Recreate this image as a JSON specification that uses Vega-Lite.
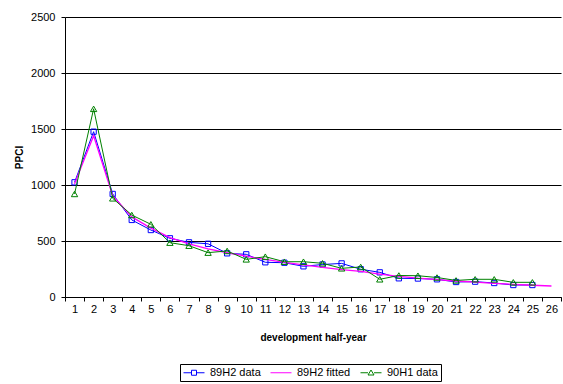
{
  "$schema": "https://vega.github.io/schema/vega-lite/v6.json",
  "width": 496,
  "height": 280,
  "autosize": {"type": "none"},
  "padding": {"left": 65, "top": 17, "right": 2, "bottom": 87},
  "background": "#ffffff",
  "config": {
    "font": "Liberation Sans",
    "view": {"stroke": null},
    "axis": {
      "domainColor": "#000000",
      "tickColor": "#000000",
      "gridColor": "#000000",
      "gridWidth": 1,
      "labelColor": "#000000",
      "titleColor": "#000000",
      "labelFont": "Liberation Sans",
      "titleFont": "Liberation Sans",
      "labelFontSize": 11,
      "titleFontSize": 10,
      "titleFontWeight": "bold",
      "tickSize": 4
    },
    "legend": {
      "orient": "none",
      "legendX": 115,
      "legendY": 347,
      "direction": "horizontal",
      "strokeColor": "#000000",
      "padding": 3,
      "symbolSize": 100,
      "symbolStrokeWidth": 1,
      "symbolOpacity": 1,
      "labelFontSize": 11,
      "labelFont": "Liberation Sans",
      "labelColor": "#000000",
      "labelOffset": 16,
      "columnPadding": 7
    }
  },
  "datasets": {
    "pts": [
      {"x": 1, "series": "89H2 data", "v": 1024},
      {"x": 2, "series": "89H2 data", "v": 1476},
      {"x": 3, "series": "89H2 data", "v": 920},
      {"x": 4, "series": "89H2 data", "v": 688},
      {"x": 5, "series": "89H2 data", "v": 598},
      {"x": 6, "series": "89H2 data", "v": 524},
      {"x": 7, "series": "89H2 data", "v": 488},
      {"x": 8, "series": "89H2 data", "v": 475},
      {"x": 9, "series": "89H2 data", "v": 390},
      {"x": 10, "series": "89H2 data", "v": 381},
      {"x": 11, "series": "89H2 data", "v": 310},
      {"x": 12, "series": "89H2 data", "v": 306},
      {"x": 13, "series": "89H2 data", "v": 274},
      {"x": 14, "series": "89H2 data", "v": 290},
      {"x": 15, "series": "89H2 data", "v": 300},
      {"x": 16, "series": "89H2 data", "v": 248},
      {"x": 17, "series": "89H2 data", "v": 220},
      {"x": 18, "series": "89H2 data", "v": 167},
      {"x": 19, "series": "89H2 data", "v": 165},
      {"x": 20, "series": "89H2 data", "v": 158},
      {"x": 21, "series": "89H2 data", "v": 134},
      {"x": 22, "series": "89H2 data", "v": 137},
      {"x": 23, "series": "89H2 data", "v": 125},
      {"x": 24, "series": "89H2 data", "v": 107},
      {"x": 25, "series": "89H2 data", "v": 107},
      {"x": 1, "series": "89H2 fitted", "v": 1010},
      {"x": 2, "series": "89H2 fitted", "v": 1440},
      {"x": 3, "series": "89H2 fitted", "v": 905},
      {"x": 4, "series": "89H2 fitted", "v": 715},
      {"x": 5, "series": "89H2 fitted", "v": 615},
      {"x": 6, "series": "89H2 fitted", "v": 530},
      {"x": 7, "series": "89H2 fitted", "v": 475},
      {"x": 8, "series": "89H2 fitted", "v": 430},
      {"x": 9, "series": "89H2 fitted", "v": 395},
      {"x": 10, "series": "89H2 fitted", "v": 365},
      {"x": 11, "series": "89H2 fitted", "v": 335},
      {"x": 12, "series": "89H2 fitted", "v": 310},
      {"x": 13, "series": "89H2 fitted", "v": 287},
      {"x": 14, "series": "89H2 fitted", "v": 265},
      {"x": 15, "series": "89H2 fitted", "v": 245},
      {"x": 16, "series": "89H2 fitted", "v": 228},
      {"x": 17, "series": "89H2 fitted", "v": 205},
      {"x": 18, "series": "89H2 fitted", "v": 185},
      {"x": 19, "series": "89H2 fitted", "v": 168},
      {"x": 20, "series": "89H2 fitted", "v": 155},
      {"x": 21, "series": "89H2 fitted", "v": 143},
      {"x": 22, "series": "89H2 fitted", "v": 132},
      {"x": 23, "series": "89H2 fitted", "v": 122},
      {"x": 24, "series": "89H2 fitted", "v": 113},
      {"x": 25, "series": "89H2 fitted", "v": 105},
      {"x": 26, "series": "89H2 fitted", "v": 98},
      {"x": 1, "series": "90H1 data", "v": 920},
      {"x": 2, "series": "90H1 data", "v": 1680},
      {"x": 3, "series": "90H1 data", "v": 881},
      {"x": 4, "series": "90H1 data", "v": 732},
      {"x": 5, "series": "90H1 data", "v": 649},
      {"x": 6, "series": "90H1 data", "v": 485},
      {"x": 7, "series": "90H1 data", "v": 458},
      {"x": 8, "series": "90H1 data", "v": 396},
      {"x": 9, "series": "90H1 data", "v": 411},
      {"x": 10, "series": "90H1 data", "v": 336},
      {"x": 11, "series": "90H1 data", "v": 360},
      {"x": 12, "series": "90H1 data", "v": 315},
      {"x": 13, "series": "90H1 data", "v": 315},
      {"x": 14, "series": "90H1 data", "v": 301},
      {"x": 15, "series": "90H1 data", "v": 256},
      {"x": 16, "series": "90H1 data", "v": 268},
      {"x": 17, "series": "90H1 data", "v": 158},
      {"x": 18, "series": "90H1 data", "v": 192},
      {"x": 19, "series": "90H1 data", "v": 190},
      {"x": 20, "series": "90H1 data", "v": 174},
      {"x": 21, "series": "90H1 data", "v": 148},
      {"x": 22, "series": "90H1 data", "v": 158},
      {"x": 23, "series": "90H1 data", "v": 158},
      {"x": 24, "series": "90H1 data", "v": 131},
      {"x": 25, "series": "90H1 data", "v": 131}
    ]
  },
  "data": {"name": "pts"},
  "encoding": {
    "x": {
      "field": "x",
      "type": "ordinal",
      "bandPosition": 0.5,
      "scale": {"type": "band", "paddingInner": 0, "paddingOuter": 0},
      "axis": {
        "title": "development half-year",
        "labelAngle": 0,
        "tickBand": "extent",
        "labelPadding": 2,
        "titlePadding": 18
      }
    },
    "y": {
      "field": "v",
      "type": "quantitative",
      "scale": {"domain": [0, 2500], "nice": false},
      "axis": {
        "title": "PPCI",
        "values": [0, 500, 1000, 1500, 2000, 2500],
        "format": "d",
        "grid": true,
        "labelPadding": 6,
        "titlePadding": 6
      }
    }
  },
  "layer": [
    {
      "transform": [{"filter": "datum.series === '89H2 data'"}],
      "mark": {"type": "line", "strokeWidth": 1, "stroke": "#0000ff"}
    },
    {
      "transform": [{"filter": "datum.series === '89H2 data'"}],
      "mark": {"type": "point", "shape": "square", "filled": false, "size": 28, "strokeWidth": 1, "stroke": "#0000ff", "opacity": 1}
    },
    {
      "transform": [{"filter": "datum.series === '89H2 fitted'"}],
      "mark": {"type": "line", "strokeWidth": 1.3, "stroke": "#ff00ff"}
    },
    {
      "transform": [{"filter": "datum.series === '90H1 data'"}],
      "mark": {"type": "line", "strokeWidth": 1, "stroke": "#008000"}
    },
    {
      "transform": [{"filter": "datum.series === '90H1 data'"}],
      "mark": {"type": "point", "shape": "triangle-up", "filled": false, "size": 40, "strokeWidth": 1, "stroke": "#008000", "opacity": 1}
    },
    {
      "mark": {"type": "point", "filled": false, "opacity": 0},
      "encoding": {
        "color": {
          "field": "series",
          "type": "nominal",
          "scale": {"domain": ["89H2 data", "89H2 fitted", "90H1 data"], "range": ["#0000ff", "#ff00ff", "#008000"]},
          "legend": {"title": null}
        },
        "shape": {
          "field": "series",
          "type": "nominal",
          "scale": {
            "domain": ["89H2 data", "89H2 fitted", "90H1 data"],
            "range": [
              "M-1,0H0.6M1.6,0H3.2M0.6,-0.5H1.6V0.5H0.6Z",
              "M-1,0H3.2",
              "M-1,0H0.5M1.7,0H3.2M1.1,-0.55L1.7,0.45H0.5Z"
            ]
          },
          "legend": {"title": null}
        }
      }
    }
  ]
}
